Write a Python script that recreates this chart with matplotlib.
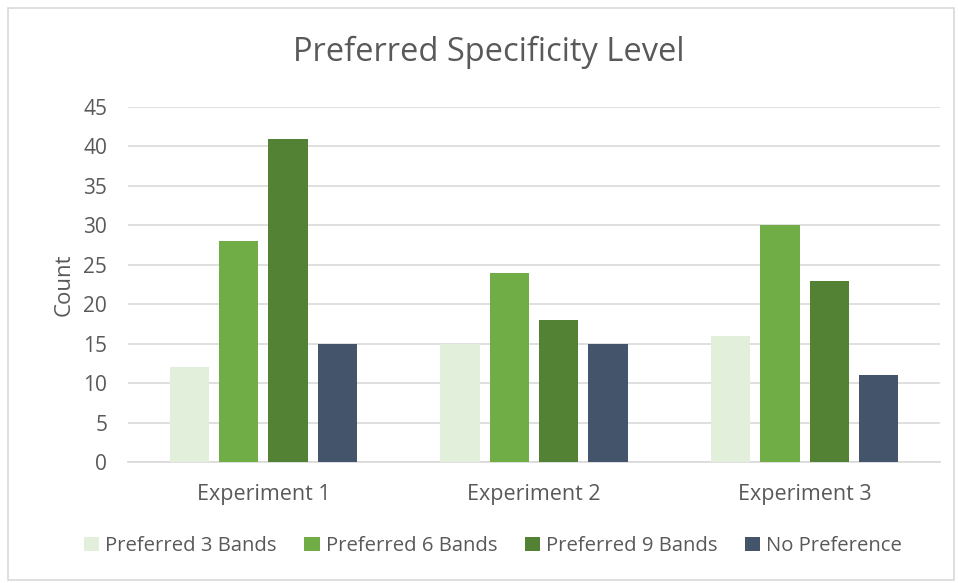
import matplotlib.pyplot as plt
import numpy as np
from matplotlib.patches import Rectangle

plt.rcParams['font.family'] = ['Open Sans', 'DejaVu Sans']

experiments = ['Experiment 1', 'Experiment 2', 'Experiment 3']
series_names = ['Preferred 3 Bands', 'Preferred 6 Bands', 'Preferred 9 Bands', 'No Preference']
pref3 = [12, 15, 16]
pref6 = [28, 24, 30]
pref9 = [41, 18, 23]
no_pref = [15, 15, 11]
colors = ['#E2EFDA', '#70AD47', '#548235', '#44546A']

text_col = '#595959'
grid_col = '#D9D9D9'

fig = plt.figure(figsize=(9.58, 5.83), dpi=100)
ax = fig.add_axes([128/958, 1-462/583, (940-128)/958, (462-107)/583])

x = np.arange(len(experiments))
width = 0.145
step = 0.182
for i, (vals, name) in enumerate(zip([pref3, pref6, pref9, no_pref], series_names)):
    ax.bar(x + (i - 1.5)*step, vals, width, color=colors[i], label=name, zorder=3)

ax.set_xlim(-0.5, 2.5)
ax.set_ylim(0, 45)
ax.set_yticks(np.arange(0, 46, 5))
ax.set_xticks(x)
ax.set_xticklabels(experiments)
ax.yaxis.grid(True, color=grid_col, linewidth=1.2, zorder=0)
for s in ['top', 'right', 'left']:
    ax.spines[s].set_visible(False)
ax.spines['bottom'].set_color(grid_col)
ax.spines['bottom'].set_linewidth(1.2)
ax.tick_params(axis='both', length=0, colors=text_col)
ax.tick_params(axis='x', pad=16, labelsize=15.5)
ax.tick_params(axis='y', pad=15, labelsize=15)
ax.set_ylabel('Count', fontsize=16, color=text_col, labelpad=6.5)

fig.suptitle('Preferred Specificity Level', x=489/958, y=1-52/583, va='center',
             fontsize=23.5, color=text_col)

leg = fig.legend(loc='center', bbox_to_anchor=(493/958, 1-546/583), ncol=4,
                 frameon=False, fontsize=14.6, handlelength=0.75, handleheight=0.75,
                 handletextpad=0.3, columnspacing=1.35, labelcolor=text_col)

fig.patches.append(Rectangle((8/958, 3/583), 946/958, 572/583, transform=fig.transFigure,
                             fill=False, edgecolor='#D9D9D9', linewidth=1.2))

fig.savefig('out.png', dpi=100, facecolor='white')
